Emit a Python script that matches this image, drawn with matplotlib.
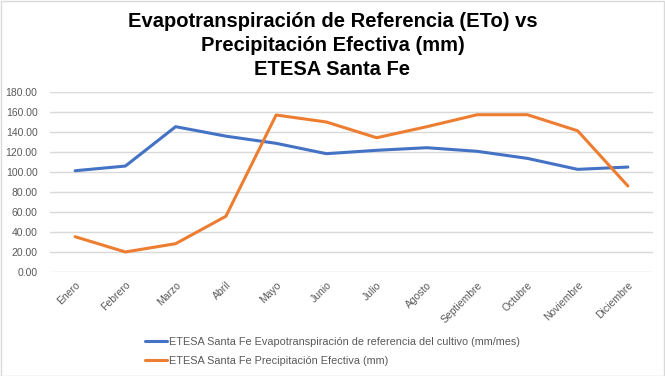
import matplotlib
matplotlib.use("Agg")
import matplotlib.pyplot as plt
from matplotlib.patches import Rectangle

MONTHS = ["Enero", "Febrero", "Marzo", "Abril", "Mayo", "Junio", "Julio",
          "Agosto", "Septiembre", "Octubre", "Noviembre", "Diciembre"]
ETO = [101.3, 106.0, 145.5, 136.0, 128.8, 118.4, 121.8, 124.4, 120.8, 113.7, 102.7, 105.0]
PRECIP = [35.1, 19.8, 28.1, 55.6, 157.2, 150.2, 134.4, 145.5, 157.5, 157.5, 141.4, 86.0]
ETO_LABEL = "ETESA Santa Fe Evapotranspiración de referencia del cultivo (mm/mes)"
PRECIP_LABEL = "ETESA Santa Fe Precipitación Efectiva (mm)"
TITLE = "Evapotranspiración de Referencia (ETo) vs\nPrecipitación Efectiva (mm)\nETESA Santa Fe"

BLUE = "#4472C4"
ORANGE = "#ED7D31"
GRAY_TEXT = "#595959"

plt.rcParams["font.family"] = ["Liberation Sans", "DejaVu Sans"]

fig = plt.figure(figsize=(6.65, 3.76), dpi=100)
fig.patches.append(Rectangle((0.001, 0.001), 0.997, 0.996, transform=fig.transFigure,
                             fill=False, edgecolor="#D9D9D9", linewidth=1))

ax = fig.add_axes([50 / 665, 1 - 271.7 / 376, 603 / 665, (271.7 - 92.3) / 376])
x = list(range(len(MONTHS)))
ax.plot(x, ETO, color=BLUE, linewidth=2.2, label=ETO_LABEL, solid_capstyle="round")
ax.plot(x, PRECIP, color=ORANGE, linewidth=2.2, label=PRECIP_LABEL, solid_capstyle="round")

ax.set_xlim(-0.5, len(MONTHS) - 0.5)
ax.set_ylim(0, 180)
ax.set_yticks(range(0, 181, 20))
ax.set_yticklabels([f"{v:.2f}" for v in range(0, 181, 20)])
ax.set_xticks(x)
ax.set_xticklabels(MONTHS, rotation=45, ha="right", rotation_mode="anchor")
ax.tick_params(axis="both", length=0, labelsize=7.5, labelcolor=GRAY_TEXT)
ax.tick_params(axis="y", pad=9)
ax.tick_params(axis="x", pad=6)
ax.grid(axis="y", color="#D9D9D9", linewidth=1)
ax.set_axisbelow(True)
for side in ax.spines.values():
    side.set_visible(False)

fig.text(0.5, 0.968, TITLE, ha="center", va="top", fontsize=14.5, fontweight="bold",
         linespacing=1.32, color="black")

fig.legend(loc="center", bbox_to_anchor=(0.5, 0.066), ncol=1, frameon=False,
           fontsize=7.8, labelcolor=GRAY_TEXT, handlelength=2.0, handletextpad=0.2,
           labelspacing=0.8)

fig.savefig("out.png", dpi=100)
